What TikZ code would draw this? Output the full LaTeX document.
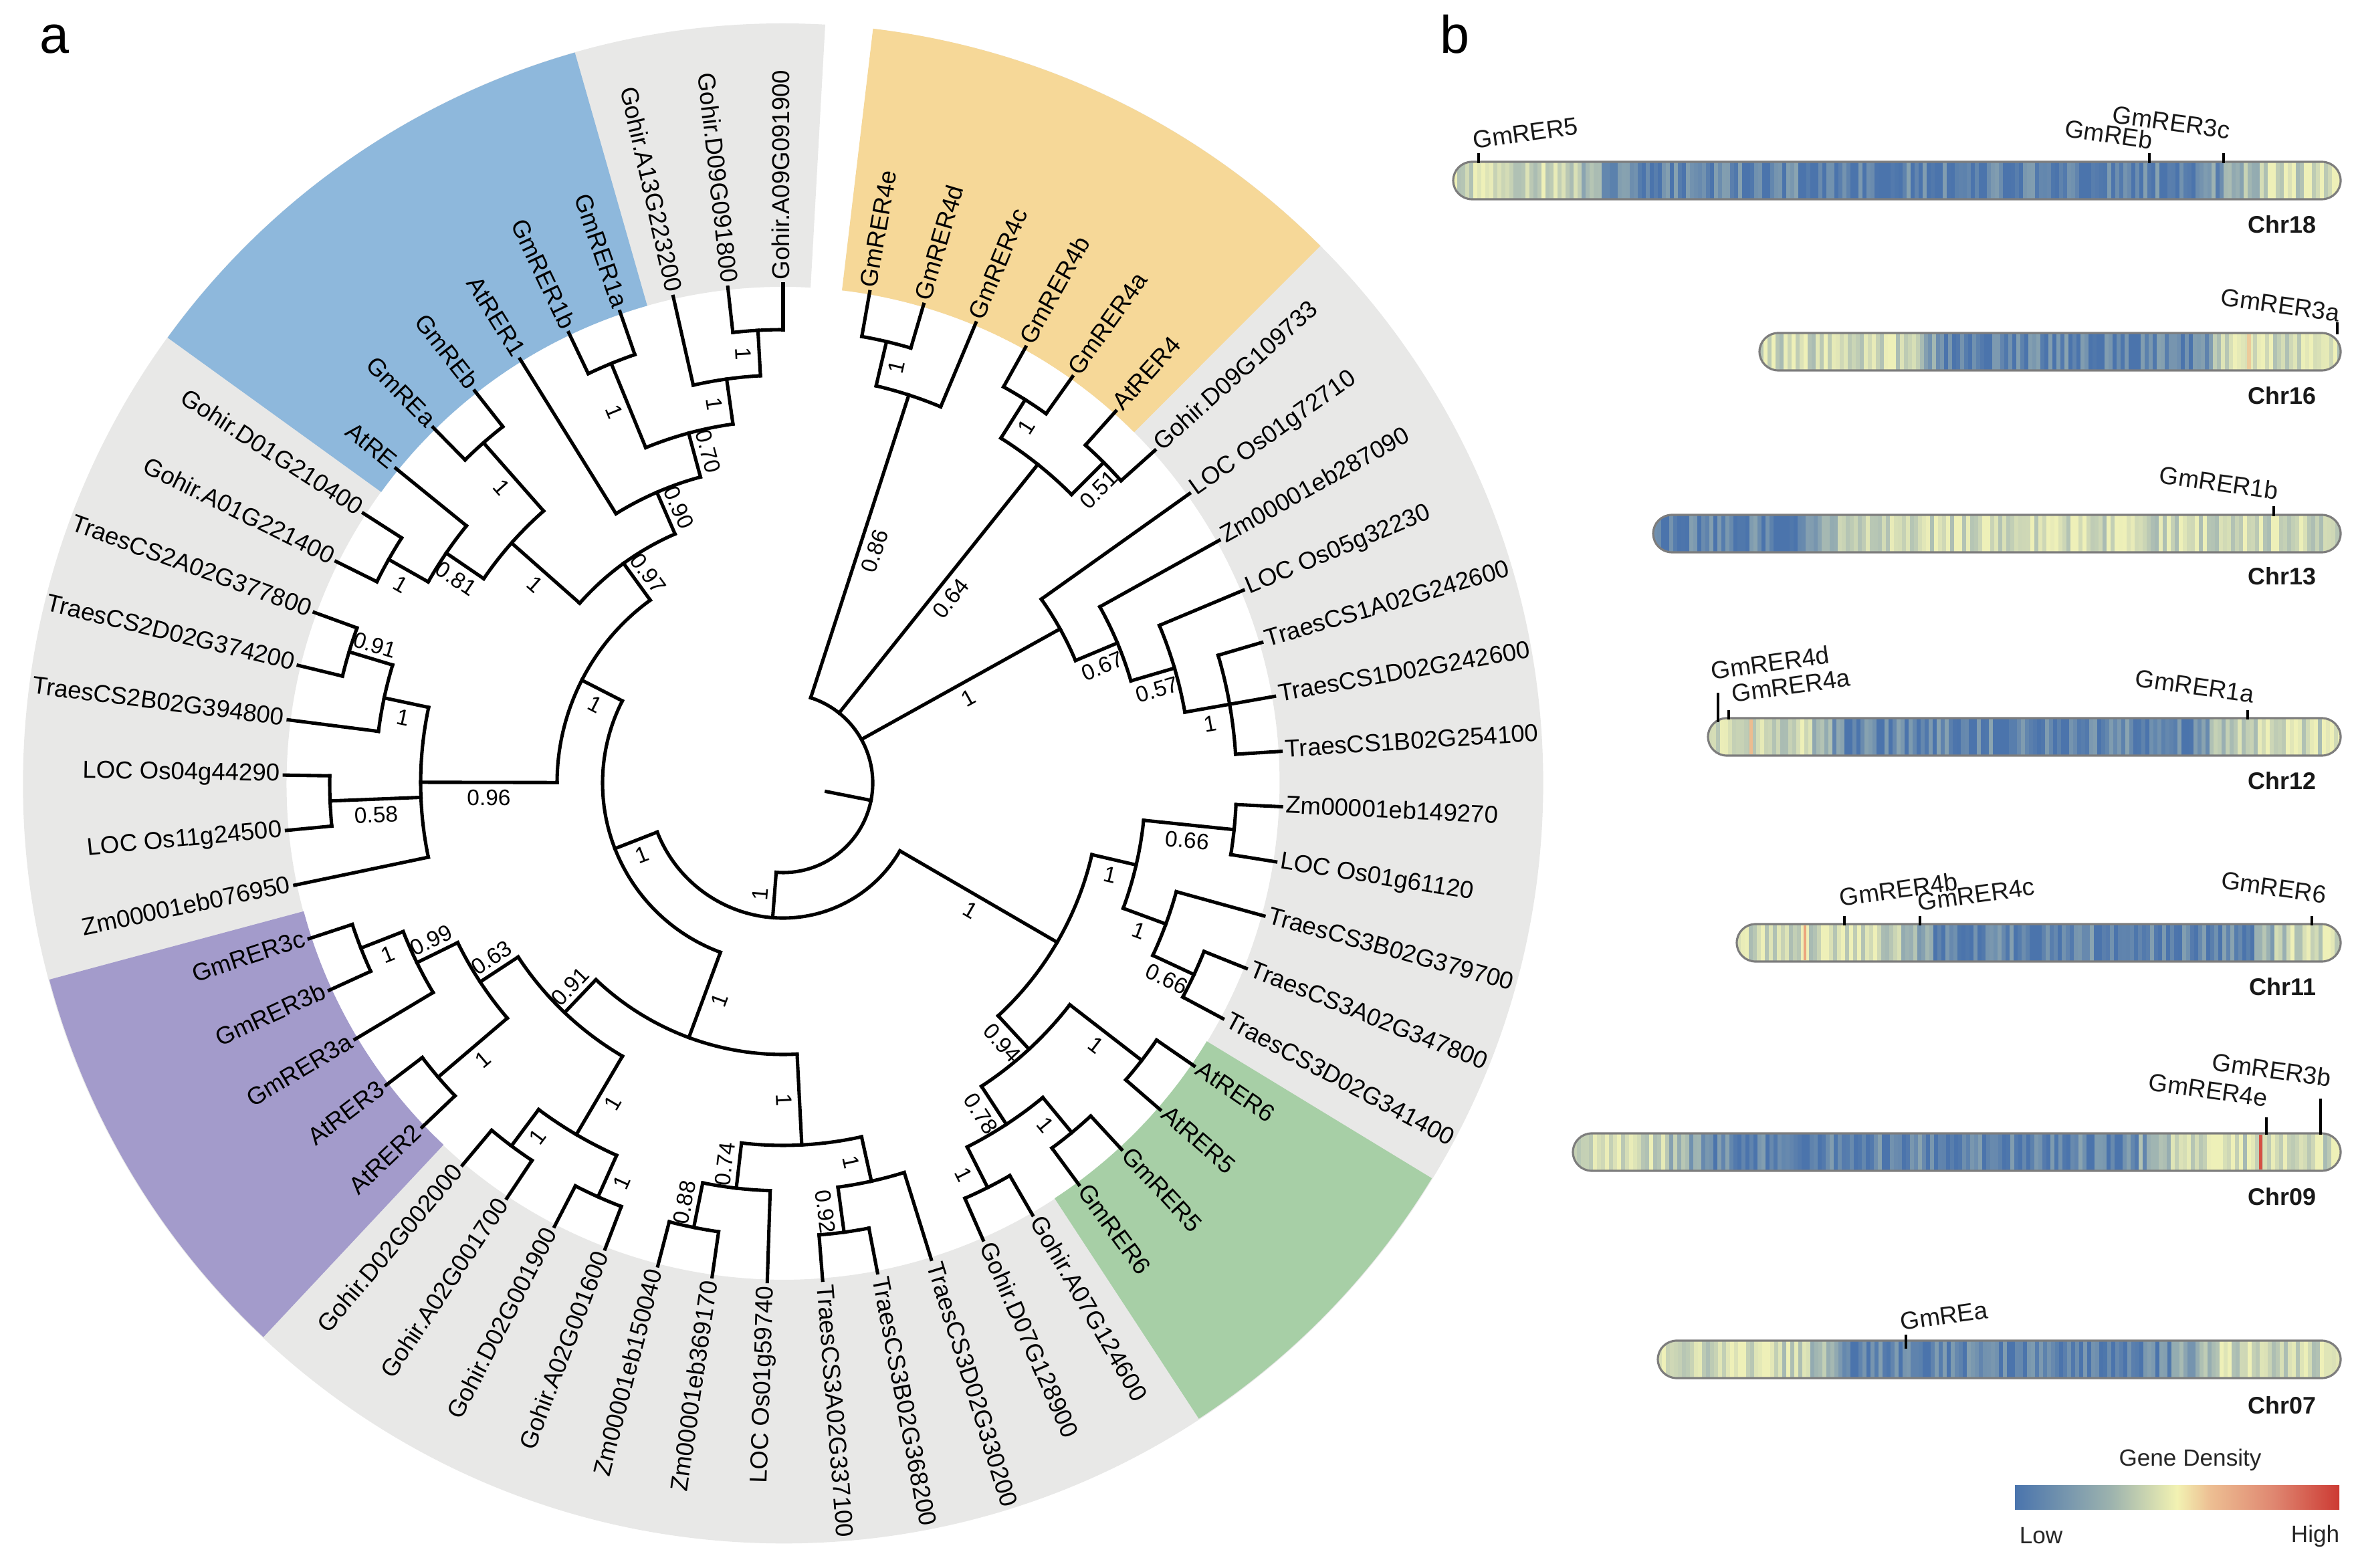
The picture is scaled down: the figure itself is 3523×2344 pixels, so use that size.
\documentclass[tikz,border=0pt]{standalone}
\usepackage{fontspec}
\setmainfont{Liberation Sans}

\definecolor{ringgrey}{HTML}{E8E8E7}
\definecolor{ringblue}{HTML}{8EB8DC}
\definecolor{ringorange}{HTML}{F6D898}
\definecolor{ringgreen}{HTML}{A7CFA6}
\definecolor{ringpurple}{HTML}{A39BCB}
\definecolor{densLow}{HTML}{4B74AC}
\definecolor{densHigh}{HTML}{EEF0B8}
\definecolor{densWarm}{HTML}{EBA67D}
\definecolor{densRed}{HTML}{D03A34}
\definecolor{legLow}{HTML}{4A74AD}
\definecolor{legTeal}{HTML}{9EB4AE}
\definecolor{legPale}{HTML}{F2F2B2}
\definecolor{legPeach}{HTML}{EDBF93}
\definecolor{legSalmon}{HTML}{DF8670}
\definecolor{legRed}{HTML}{CC3A33}
\definecolor{barline}{HTML}{7D7D7D}
\pgfdeclarehorizontalshading{density}{100bp}{color(0bp)=(legLow); color(25bp)=(legLow); color(40bp)=(legTeal); color(50bp)=(legPale); color(55bp)=(legPeach); color(65bp)=(legSalmon); color(75bp)=(legRed); color(100bp)=(legRed)}

% leaf: name, position, text
\newcommand\treeleaf[3]{%
  \pgfmathsetmacro\tlA{80-(#2-1)*(350/55)}%
  \expandafter\xdef\csname ang#1\endcsname{\tlA}%
  \expandafter\xdef\csname hgt#1\endcsname{0}%
  \expandafter\xdef\csname rad#1\endcsname{746}%
  \expandafter\gdef\csname sup#1\endcsname{}%
  \coordinate (#1) at (\tlA:746);
  \pgfmathtruncatemacro\tlR{cos(\tlA)>-0.01}%
  \ifnum\tlR=1
    \node[leaflab,anchor=west,rotate=\tlA] (#1-t) at (\tlA:748) {#3};
  \else
    \pgfmathsetmacro\tlB{\tlA+180}%
    \node[leaflab,anchor=east,rotate=\tlB] (#1-t) at (\tlA:748) {#3};
  \fi}

% clade: name, children, support, side of support (a above, b below)
\newcommand\treeclade[4]{%
  \xdef\tcMax{-999}\xdef\tcMin{999}\xdef\tcHgt{0}%
  \foreach \kid in {#2}{%
    \edef\tcKa{\csname ang\kid\endcsname}%
    \edef\tcKh{\csname hgt\kid\endcsname}%
    \pgfmathsetmacro\tcT{max(\tcMax,\tcKa)}\xdef\tcMax{\tcT}%
    \pgfmathsetmacro\tcT{min(\tcMin,\tcKa)}\xdef\tcMin{\tcT}%
    \pgfmathtruncatemacro\tcT{max(\tcHgt,\tcKh)}\xdef\tcHgt{\tcT}%
  }%
  \pgfmathtruncatemacro\tcH{\tcHgt+1}%
  \pgfmathsetmacro\tcR{746-68*\tcH}%
  \pgfmathsetmacro\tcA{(\tcMax+\tcMin)/2}%
  \pgfmathsetlengthmacro\tcL{\tcR*0.01cm}%
  \expandafter\xdef\csname ang#1\endcsname{\tcA}%
  \expandafter\xdef\csname hgt#1\endcsname{\tcH}%
  \expandafter\xdef\csname rad#1\endcsname{\tcR}%
  \expandafter\gdef\csname sup#1\endcsname{#3}%
  \expandafter\gdef\csname sid#1\endcsname{#4}%
  \coordinate (#1) at (\tcA:\tcR);
  \draw[branch] (\tcMax:\tcR) arc[start angle=\tcMax,end angle=\tcMin,radius=\tcL];
  \foreach \kid in {#2}{%
    \edef\tcKa{\csname ang\kid\endcsname}%
    \edef\tcKr{\csname rad\kid\endcsname}%
    \draw[branch] (\tcKa:\tcR) -- (\kid);
    \edef\tcS{\csname sup\kid\endcsname}%
    \ifx\tcS\empty\else
      \edef\tcSd{\csname sid\kid\endcsname}%
      \pgfmathsetmacro\tcM{(\tcR+\tcKr)/2}%
      \pgfmathtruncatemacro\tcRt{cos(\tcKa)>-0.01}%
      \ifnum\tcRt=1 \edef\tcRot{\tcKa}\else\pgfmathsetmacro\tcRot{\tcKa+180}\fi
      \if a\tcSd\def\tcAn{south}\else\def\tcAn{north}\fi
      \node[supp,rotate=\tcRot,anchor=\tcAn] (\kid-s) at (\tcKa:\tcM) {\tcS};
    \fi
  }}

\newcommand\ringsector[3]{%
  \fill[#1] (#2:742) arc[start angle=#2,end angle=#3,radius=7.42cm]
    -- (#3:1136) arc[start angle=#3,end angle=#2,radius=11.36cm] -- cycle;}

% chromosome: name, left, right, centre y, start and end of the low zone
\newcommand\chrom[6]{%
  \begin{scope}
    \clip[rounded corners=0.28cm] (#2,#4-28) rectangle (#3,#4+28);
    \pgfmathtruncatemacro\stN{(#3-#2)/6}%
    \foreach \i in {0,...,\stN}{%
      \pgfmathsetmacro\stP{\i/\stN}%
      \pgfmathsetmacro\stD{max(#5-\stP,\stP-#6)}%
      \pgfmathsetmacro\stQ{min(1,max(0,0.5+\stD/0.08))}%
      \pgfmathtruncatemacro\stM{100*min(1,max(0,0.12+0.72*\stQ+0.55*(rnd-0.5)))}%
      \colorlet{stripe}{densHigh!\stM!densLow}%
      \fill[stripe] (#2+\i*6,#4-28) rectangle ++(7,56);
    }
  \end{scope}
  \draw[chrbar] (#2,#4-28) rectangle (#3,#4+28);
  \coordinate (#1) at (#3,#4);}

\begin{document}
\begin{tikzpicture}[x=0.01cm,y=0.01cm,
  branch/.style={line width=1.45pt,line cap=rect,black},
  leaflab/.style={font=\fontsize{10.4}{12}\selectfont,inner xsep=1.2pt,inner ysep=0pt,text height=0.72em,text depth=0.2em},
  supp/.style={font=\fontsize{9.5}{11}\selectfont,inner sep=2.5pt,text height=0.72em,text depth=0pt},
  chrbar/.style={draw=barline,line width=0.9pt,rounded corners=0.28cm},
  tick/.style={line width=0.9pt,black},
  genelab/.style={font=\fontsize{10.5}{12}\selectfont,inner sep=1pt,text=black!90},
  chrlab/.style={font=\fontsize{10.2}{12}\selectfont\bfseries,anchor=east,text=black!90},
  panellab/.style={font=\fontsize{22.5}{26}\selectfont,anchor=base},
  legendlab/.style={font=\fontsize{10}{12}\selectfont,text=black!85}]

\useasboundingbox (0,0) rectangle (3523,2344);

% a: tree
\begin{scope}[shift={(1171,1173)}]
  \ringsector{ringgrey}{83.18}{-273.18}
  \ringsector{ringorange}{83.18}{45}
  \ringsector{ringgreen}{-31.37}{-56.82}
  \ringsector{ringpurple}{-133.18}{-165}
  \ringsector{ringblue}{-215.91}{-254.09}

  \treeleaf{l1}{1}{GmRER4e}
  \treeleaf{l2}{2}{GmRER4d}
  \treeleaf{l3}{3}{GmRER4c}
  \treeleaf{l4}{4}{GmRER4b}
  \treeleaf{l5}{5}{GmRER4a}
  \treeleaf{l6}{6}{AtRER4}
  \treeleaf{l7}{7}{Gohir.D09G109733}
  \treeleaf{l8}{8}{LOC Os01g72710}
  \treeleaf{l9}{9}{Zm00001eb287090}
  \treeleaf{l10}{10}{LOC Os05g32230}
  \treeleaf{l11}{11}{TraesCS1A02G242600}
  \treeleaf{l12}{12}{TraesCS1D02G242600}
  \treeleaf{l13}{13}{TraesCS1B02G254100}
  \treeleaf{l14}{14}{Zm00001eb149270}
  \treeleaf{l15}{15}{LOC Os01g61120}
  \treeleaf{l16}{16}{TraesCS3B02G379700}
  \treeleaf{l17}{17}{TraesCS3A02G347800}
  \treeleaf{l18}{18}{TraesCS3D02G341400}
  \treeleaf{l19}{19}{AtRER6}
  \treeleaf{l20}{20}{AtRER5}
  \treeleaf{l21}{21}{GmRER5}
  \treeleaf{l22}{22}{GmRER6}
  \treeleaf{l23}{23}{Gohir.A07G124600}
  \treeleaf{l24}{24}{Gohir.D07G128900}
  \treeleaf{l25}{25}{TraesCS3D02G330200}
  \treeleaf{l26}{26}{TraesCS3B02G368200}
  \treeleaf{l27}{27}{TraesCS3A02G337100}
  \treeleaf{l28}{28}{LOC Os01g59740}
  \treeleaf{l29}{29}{Zm00001eb369170}
  \treeleaf{l30}{30}{Zm00001eb150040}
  \treeleaf{l31}{31}{Gohir.A02G001600}
  \treeleaf{l32}{32}{Gohir.D02G001900}
  \treeleaf{l33}{33}{Gohir.A02G001700}
  \treeleaf{l34}{34}{Gohir.D02G002000}
  \treeleaf{l35}{35}{AtRER2}
  \treeleaf{l36}{36}{AtRER3}
  \treeleaf{l37}{37}{GmRER3a}
  \treeleaf{l38}{38}{GmRER3b}
  \treeleaf{l39}{39}{GmRER3c}
  \treeleaf{l40}{40}{Zm00001eb076950}
  \treeleaf{l41}{41}{LOC Os11g24500}
  \treeleaf{l42}{42}{LOC Os04g44290}
  \treeleaf{l43}{43}{TraesCS2B02G394800}
  \treeleaf{l44}{44}{TraesCS2D02G374200}
  \treeleaf{l45}{45}{TraesCS2A02G377800}
  \treeleaf{l46}{46}{Gohir.A01G221400}
  \treeleaf{l47}{47}{Gohir.D01G210400}
  \treeleaf{l48}{48}{AtRE}
  \treeleaf{l49}{49}{GmREa}
  \treeleaf{l50}{50}{GmREb}
  \treeleaf{l51}{51}{AtRER1}
  \treeleaf{l52}{52}{GmRER1b}
  \treeleaf{l53}{53}{GmRER1a}
  \treeleaf{l54}{54}{Gohir.A13G223200}
  \treeleaf{l55}{55}{Gohir.D09G091800}
  \treeleaf{l56}{56}{Gohir.A09G091900}

  \treeclade{n12}{l1,l2}{1}{b}
  \treeclade{n123}{n12,l3}{0.86}{b}
  \treeclade{n45}{l4,l5}{1}{b}
  \treeclade{n67}{l6,l7}{0.51}{b}
  \treeclade{n4567}{n45,n67}{0.64}{b}
  \treeclade{n1113}{l11,l12,l13}{1}{b}
  \treeclade{n1013}{l10,n1113}{0.57}{b}
  \treeclade{n913}{l9,n1013}{0.67}{b}
  \treeclade{n813}{l8,n913}{1}{b}
  \treeclade{n1415}{l14,l15}{0.66}{b}
  \treeclade{n1718}{l17,l18}{0.66}{b}
  \treeclade{n1618}{l16,n1718}{1}{b}
  \treeclade{n1418}{n1415,n1618}{1}{b}
  \treeclade{n1920}{l19,l20}{1}{b}
  \treeclade{n2122}{l21,l22}{1}{b}
  \treeclade{n2324}{l23,l24}{1}{b}
  \treeclade{n2124}{n2122,n2324}{0.78}{b}
  \treeclade{n1924}{n1920,n2124}{0.94}{b}
  \treeclade{n1424}{n1418,n1924}{1}{b}
  \treeclade{n2627}{l26,l27}{0.92}{b}
  \treeclade{n2527}{l25,n2627}{1}{b}
  \treeclade{n2930}{l29,l30}{0.88}{a}
  \treeclade{n2830}{l28,n2930}{0.74}{a}
  \treeclade{n2530}{n2527,n2830}{1}{b}
  \treeclade{n3132}{l31,l32}{1}{b}
  \treeclade{n3334}{l33,l34}{1}{b}
  \treeclade{n3134}{n3132,n3334}{1}{b}
  \treeclade{n3536}{l35,l36}{1}{b}
  \treeclade{n3839}{l38,l39}{1}{b}
  \treeclade{n3739}{l37,n3839}{0.99}{a}
  \treeclade{n3539}{n3536,n3739}{0.63}{a}
  \treeclade{n3139}{n3134,n3539}{0.91}{a}
  \treeclade{n2539}{n2530,n3139}{1}{b}
  \treeclade{n4445}{l44,l45}{0.91}{a}
  \treeclade{n4345}{l43,n4445}{1}{b}
  \treeclade{n4142}{l41,l42}{0.58}{b}
  \treeclade{n4045}{l40,n4142,n4345}{0.96}{b}
  \treeclade{n4647}{l46,l47}{1}{b}
  \treeclade{n4648}{n4647,l48}{0.81}{b}
  \treeclade{n4950}{l49,l50}{1}{b}
  \treeclade{n4650}{n4648,n4950}{1}{b}
  \treeclade{n5253}{l52,l53}{1}{b}
  \treeclade{n5556}{l55,l56}{1}{b}
  \treeclade{n5456}{l54,n5556}{1}{b}
  \treeclade{n5256}{n5253,n5456}{0.70}{a}
  \treeclade{n5156}{l51,n5256}{0.90}{a}
  \treeclade{n4656}{n4650,n5156}{0.97}{a}
  \treeclade{n4056}{n4045,n4656}{1}{b}
  \treeclade{n2556}{n2539,n4056}{1}{b}
  \treeclade{n1456}{n1424,n2556}{1}{a}
  \treeclade{root}{n123,n4567,n813,n1456}{}{b}
  \edef\rootang{\csname angroot\endcsname}
  \draw[branch] (root) -- (\rootang:66) coordinate (rootstub);
\end{scope}

% b: chromosomes, in picture coordinates from the top
\begin{scope}[shift={(0,2344)},yscale=-1]
  \node[panellab] (lab-a) at (82,80) {a};
  \node[panellab] (lab-b) at (2175,80) {b};

  \pgfmathsetseed{7}
  \chrom{chr18}{2173}{3500}{270}{0.15}{0.88}
  \chrom{chr16}{2631}{3500}{526}{0.28}{0.78}
  \chrom{chr13}{2472}{3500}{798}{-0.5}{0.24}
  \chrom{chr12}{2554}{3500}{1102}{0.18}{0.80}
  \chrom{chr11}{2597}{3500}{1410}{0.29}{0.88}
  \chrom{chr09}{2352}{3500}{1723}{0.14}{0.75}
  \chrom{chr07}{2479}{3500}{2033}{0.24}{0.78}

  \fill[densRed!80!densWarm] (3378,1697) rectangle ++(5,52);
  \fill[densWarm] (2697,1384) rectangle ++(4,52);
  \fill[densWarm!70!densHigh] (2616,1076) rectangle ++(5,52);
  \fill[densWarm!50!densHigh] (3360,500) rectangle ++(6,52);

  \draw[tick] (2211,244) -- (2211,229);
  \node[genelab,rotate=8,anchor=south west] (g-rer5) at (2201,228) {GmRER5};
  \draw[tick] (3214,244) -- (3214,229);
  \node[genelab,rotate=-8,anchor=south east] (g-reb) at (3220,228) {GmREb};
  \draw[tick] (3325,244) -- (3325,229);
  \node[genelab,rotate=-8,anchor=south east] (g-rer3c) at (3336,213) {GmRER3c};

  \draw[tick] (3495,500) -- (3495,482);
  \node[genelab,rotate=-8,anchor=south east] (g-rer3a) at (3500,486) {GmRER3a};

  \draw[tick] (3400,772) -- (3400,757);
  \node[genelab,rotate=-8,anchor=south east] (g-rer1b) at (3408,752) {GmRER1b};

  \draw[tick] (2569,1080) -- (2569,1036);
  \node[genelab,rotate=8,anchor=south west] (g-rer4d) at (2557,1022) {GmRER4d};
  \draw[tick] (2585,1076) -- (2585,1062);
  \node[genelab,rotate=8,anchor=south west] (g-rer4a) at (2588,1056) {GmRER4a};
  \draw[tick] (3361,1076) -- (3361,1062);
  \node[genelab,rotate=-8,anchor=south east] (g-rer1a) at (3372,1056) {GmRER1a};

  \draw[tick] (2758,1384) -- (2758,1370);
  \node[genelab,rotate=8,anchor=south west] (g-rer4b) at (2749,1361) {GmRER4b};
  \draw[tick] (2871,1384) -- (2871,1370);
  \node[genelab,rotate=8,anchor=south west] (g-rer4c) at (2866,1368) {GmRER4c};
  \draw[tick] (3457,1384) -- (3457,1370);
  \node[genelab,rotate=-8,anchor=south east] (g-rer6) at (3480,1356) {GmRER6};

  \draw[tick] (3389,1697) -- (3389,1671);
  \node[genelab,rotate=-8,anchor=south east] (g-rer4e) at (3392,1660) {GmRER4e};
  \draw[tick] (3470,1697) -- (3470,1643);
  \node[genelab,rotate=-8,anchor=south east] (g-rer3b) at (3487,1630) {GmRER3b};

  \draw[tick] (2850,2017) -- (2850,1996);
  \node[genelab,rotate=8,anchor=south west] (g-rea) at (2840,1995) {GmREa};

  \node[chrlab] (c18) at (3476,336) {Chr18};
  \node[chrlab] (c16) at (3476,592) {Chr16};
  \node[chrlab] (c13) at (3476,862) {Chr13};
  \node[chrlab] (c12) at (3476,1168) {Chr12};
  \node[chrlab] (c11) at (3476,1476) {Chr11};
  \node[chrlab] (c09) at (3476,1790) {Chr09};
  \node[chrlab] (c07) at (3476,2102) {Chr07};

  \node[legendlab] (leg-title) at (3275,2183) {Gene Density};
  \shade[shading=density] (3013,2221) rectangle (3498,2257);
  \node[legendlab] (leg-low) at (3052,2297) {Low};
  \node[legendlab] (leg-high) at (3462,2297) {High};
\end{scope}
\end{tikzpicture}
\end{document}
